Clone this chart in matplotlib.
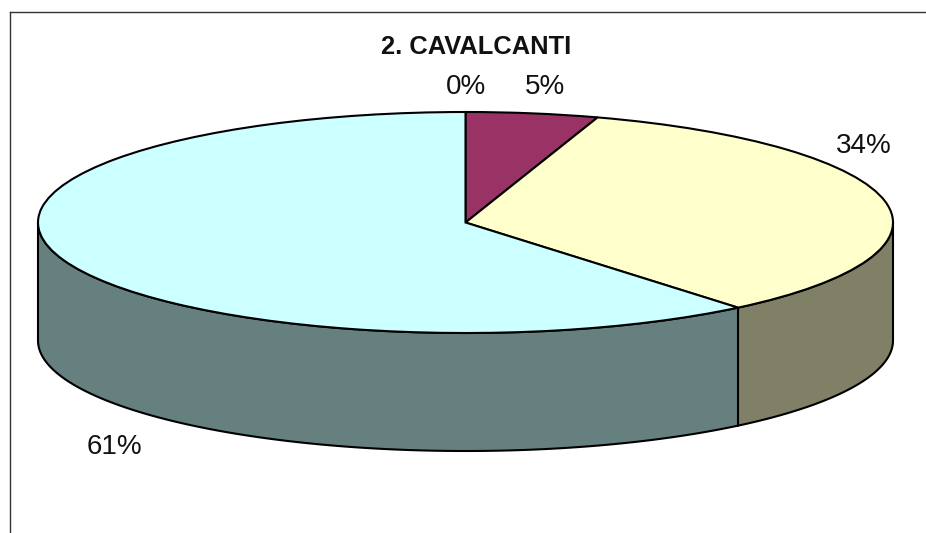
#3D looking pie chart, drawn from a flat pie squashed into an ellipse
import numpy as np
import matplotlib
matplotlib.use("Agg")
import matplotlib.pyplot as plt
from matplotlib.lines import Line2D

title = "2. CAVALCANTI"
values = [0, 5, 34, 61]
top_colors = ["#9999FF", "#993366", "#FFFFCC", "#CCFFFF"]
wall_colors = ["#4D4D80", "#4D1A33", "#808066", "#668080"]

W, H = 926, 533
CX, CY = 465.5, 222.5  #pie centre in pixels
RX, RY = 427.5, 110.5  #pie radii in pixels
DEPTH = 118 / RY       #wall height in units of the squashed y radius
LW = 1.5


def label_text(x, y, s, **kw):
    plt.gcf().text(x / W, 1 - y / H, s, ha="center", va="center", color="#111111", **kw)


def main():
    plt.rcParams["font.family"] = ["Liberation Sans", "DejaVu Sans"]
    fig = plt.figure(figsize=(W / 100, H / 100), dpi=100, facecolor="white")
    ax = fig.add_axes([0, 0, 1, 1])

    ax.pie(values, colors=top_colors, startangle=90, counterclock=False, radius=1,
           wedgeprops={"edgecolor": "black", "linewidth": LW, "zorder": 2})
    ax.set_aspect("auto")
    ax.set_xlim(-CX / RX, (W - CX) / RX)
    ax.set_ylim(-(H - CY) / RY, CY / RY)

    #side walls, only the front half of the rim can be seen
    start = 0
    for v, c in zip(values, wall_colors):
        end = start + v / sum(values) * 360
        a = max(start, 90)
        b = min(end, 270)
        if b > a:
            t = np.radians(np.linspace(a, b, 200))
            x = np.sin(t)
            y = np.cos(t)
            ax.fill(np.r_[x, x[::-1]], np.r_[y, y[::-1] - DEPTH], facecolor=c,
                    edgecolor="black", linewidth=LW, zorder=1)
        start = end

    #chart area border, only top and left are inside the picture
    fig.add_artist(Line2D([10 / W, 1], [1 - 12 / H, 1 - 12 / H], color="#333333", lw=1.0))
    fig.add_artist(Line2D([10 / W, 10 / W], [1 - 12 / H, 0], color="#333333", lw=1.0))

    label_text(476, 47, title, fontsize=18.4, fontweight="bold")
    pos = [(466, 86.5), (545, 86.5), (864, 146), (114, 447.5)]
    for v, (x, y) in zip(values, pos):
        label_text(x, y, f"{v}%", fontsize=20)

    fig.savefig("out.png", dpi=100)


if __name__ == "__main__":
    main()
